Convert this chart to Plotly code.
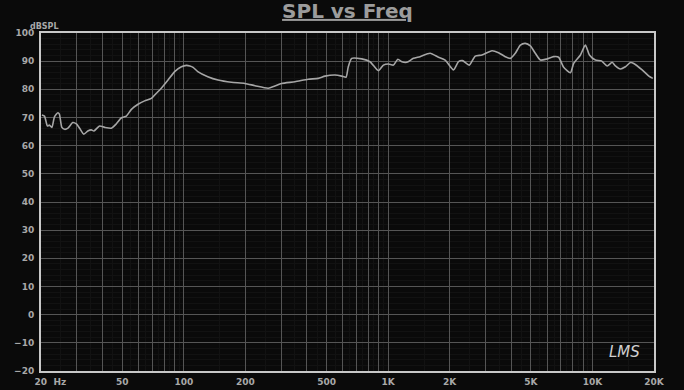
import numpy as np
import plotly.graph_objects as go

# Frequency response (Hz, dBSPL)
freq_hz = [20.2, 20.8, 21.5, 22.0, 22.6, 23.3, 24.2, 24.6, 25.3, 26.1, 27.1, 28.6, 29.8,
           30.9, 32.4, 33.9, 35.2, 36.3, 38.7, 41.0, 44.2, 46.7, 49.5, 52.3, 55.4, 59.7,
           64.3, 69.4, 73.4, 77.6, 83.7, 90.2, 97.3, 103, 107, 111, 117, 131, 147, 171,
           199, 223, 259, 279, 301, 350, 406, 455, 491, 549, 593, 622, 638, 663, 743,
           815, 896, 948, 1002, 1061, 1115, 1167, 1234, 1330, 1433, 1604, 1762, 1901,
           2089, 2209, 2311, 2494, 2668, 2878, 3222, 3470, 3740, 3963, 4190, 4436, 4690,
           4966, 5250, 5560, 5990, 6455, 6827, 7227, 7797, 8094, 8730, 9230, 9660,
           10330, 11060, 11800, 12480, 12950, 13710, 14490, 15350, 15920, 17500,
           18880, 19730]
spl_db = [70.9, 70.5, 67.0, 67.3, 66.5, 70.3, 71.7, 71.2, 66.5, 65.8, 66.2, 68.2, 67.7,
          66.2, 64.1, 65.2, 65.6, 65.2, 67.0, 66.5, 66.2, 67.7, 69.9, 70.5, 72.9, 74.7,
          75.9, 76.8, 78.6, 80.4, 83.3, 86.3, 88.0, 88.5, 88.3, 87.8, 86.3, 84.5, 83.3,
          82.5, 82.1, 81.3, 80.4, 81.2, 82.1, 82.7, 83.6, 83.9, 84.7, 85.1, 84.7, 84.3,
          88.0, 91.0, 90.8, 89.8, 86.6, 88.6, 89.0, 88.6, 90.7, 89.8, 89.6, 91.0, 91.6,
          92.8, 91.4, 90.4, 86.9, 89.8, 90.2, 88.6, 91.8, 92.2, 93.7, 93.0, 91.6, 91.0,
          92.8, 95.7, 96.3, 95.4, 92.8, 90.4, 90.8, 91.6, 91.4, 87.8, 85.9, 89.2, 92.2,
          95.7, 92.2, 90.4, 90.1, 88.3, 89.6, 88.3, 87.2, 88.0, 89.5, 89.2, 86.9, 84.7,
          83.9]

# Axis ticks
x_grid_vals = [20, 30, 40, 50, 60, 70, 80, 90, 100, 200, 300, 400, 500, 600, 700, 800, 900,
               1000, 2000, 3000, 4000, 5000, 6000, 7000, 8000, 9000, 10000, 20000]
x_tick_labels = {20: "      20  Hz", 50: "50", 100: "100", 200: "200", 500: "500", 1000: "1K",
                 2000: "2K", 5000: "5K", 10000: "10K", 20000: "20K"}
x_minor_vals = [25, 35, 45, 55, 65, 75, 85, 95, 150, 250, 350, 450, 550, 650, 750, 850, 950,
                1500, 2500, 3500, 4500, 5500, 6500, 7500, 8500, 9500, 15000]
y_tick_vals = list(range(-20, 101, 10))

BG = "#0a0a0a"
GRID = "#555555"
FAINT = "#121212"
TXT = "#a8a8a8"

fig = go.Figure()
fig.add_trace(go.Scatter(
    x=freq_hz, y=spl_db, mode="lines",
    line=dict(color="#a6a6a6", width=1.6, shape="spline", smoothing=0.6),
    hoverinfo="x+y", showlegend=False,
))

fig.update_layout(
    width=684, height=390,
    paper_bgcolor=BG, plot_bgcolor=BG,
    margin=dict(l=41, r=30, t=33, b=19, autoexpand=False),
    title=dict(
        text="<b>SPL vs Freq</b>",
        x=0.508, xanchor="center", y=0.99, yanchor="top",
        font=dict(family="DejaVu Sans", size=20, color="#9c9c9c", lineposition="under"),
    ),
    xaxis=dict(
        type="log", range=[np.log10(20), np.log10(20000)],
        tickmode="array", tickvals=x_grid_vals,
        ticktext=[x_tick_labels.get(v, "") for v in x_grid_vals],
        showgrid=True, gridcolor=GRID, gridwidth=1,
        minor=dict(tickmode="array", tickvals=x_minor_vals, showgrid=True,
                   gridcolor=FAINT, gridwidth=1, ticks=""),
        showline=True, linecolor="#c8c8c8", linewidth=2, mirror=True,
        ticks="", ticklen=0, automargin=False, ticklabelstandoff=1,
        tickfont=dict(family="DejaVu Sans", size=9, color=TXT, weight="bold"),
        zeroline=False,
    ),
    yaxis=dict(
        range=[-20, 100], tickmode="array", tickvals=y_tick_vals,
        showgrid=True, gridcolor=GRID, gridwidth=1,
        minor=dict(dtick=2, showgrid=True, gridcolor=FAINT, gridwidth=1, ticks=""),
        showline=True, linecolor="#c8c8c8", linewidth=2, mirror=True,
        ticks="", ticklen=0, automargin=False, ticklabelstandoff=3,
        tickfont=dict(family="DejaVu Sans", size=9, color=TXT, weight="bold"),
        zeroline=False,
    ),
    annotations=[
        dict(text="<b>dBSPL</b>", xref="paper", yref="paper", x=-0.022, y=1.0,
             xanchor="left", yanchor="bottom", showarrow=False,
             font=dict(family="DejaVu Sans", size=8, color=TXT)),
        dict(text="<i>LMS</i>", xref="paper", yref="paper", x=0.98, y=0.025,
             xanchor="right", yanchor="bottom", showarrow=False,
             font=dict(family="DejaVu Sans", size=15, color="#d0d0d0", weight="normal")),
    ],
)

fig.write_html(
    "out.html",
    config={"displayModeBar": False},
    post_script="document.body.style.margin='0';document.body.style.overflow='hidden';"
                "document.body.style.background='#0a0a0a';",
)
